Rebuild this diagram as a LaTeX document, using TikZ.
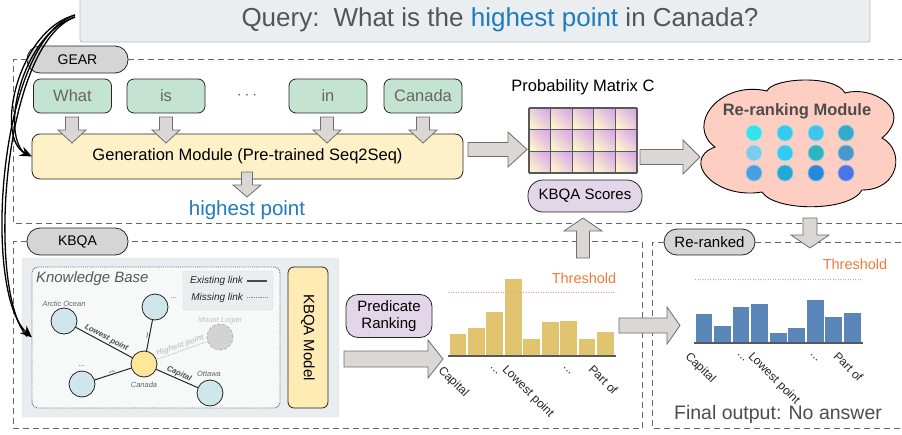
\documentclass[tikz,border=0pt]{standalone}
\usepackage{fontspec}
\setmainfont{Liberation Sans}
\usetikzlibrary{arrows.meta}
\definecolor{querybg}{HTML}{EAEEF0}
\definecolor{queryln}{HTML}{B8BCBE}
\definecolor{qtext}{HTML}{555555}
\definecolor{blueT}{HTML}{1F7BC0}
\definecolor{tokfill}{HTML}{C5E3D3}
\definecolor{tokt}{HTML}{666666}
\definecolor{genfill}{HTML}{FFF1C7}
\definecolor{pillgray}{HTML}{D5D5D5}
\definecolor{arrowfill}{HTML}{DBD7D5}
\definecolor{arrowdraw}{HTML}{6E6E6E}
\definecolor{scorefill}{HTML}{E2D6E8}
\definecolor{cloudc}{HTML}{FFCEC3}
\definecolor{kbpanel}{HTML}{E9EDEF}
\definecolor{kbinner}{HTML}{F7F8F8}
\definecolor{circc}{HTML}{CFE6EC}
\definecolor{canc}{HTML}{FFE699}
\definecolor{loganc}{HTML}{D3D3D3}
\definecolor{modelc}{HTML}{FFEBB3}
\definecolor{barY}{HTML}{E0C46F}
\definecolor{barB}{HTML}{5B86BA}
\definecolor{thrline}{HTML}{F49090}
\definecolor{thrtext}{HTML}{F07A36}
\definecolor{dashc}{HTML}{666666}
\definecolor{kblab}{HTML}{666666}
\definecolor{matY}{HTML}{FDF2CC}
\definecolor{matP}{HTML}{D9AEE8}
\newcommand{\arrD}[6]{\draw[blk] ({#1-#4},#2) -- ({#1+#4},#2) -- ({#1+#4},{#3-(#6)}) -- ({#1+#5},{#3-(#6)}) -- (#1,#3) -- ({#1-#5},{#3-(#6)}) -- ({#1-#4},{#3-(#6)}) -- cycle;}
\newcommand{\arrR}[6]{\draw[blk] (#2,{#1-#4}) -- (#2,{#1+#4}) -- ({#3-(#6)},{#1+#4}) -- ({#3-(#6)},{#1+#5}) -- (#3,#1) -- ({#3-(#6)},{#1-#5}) -- ({#3-(#6)},{#1-#4}) -- cycle;}
\begin{document}
\begin{tikzpicture}[x=1pt,y=-1pt,
  every node/.style={inner sep=0pt, outer sep=0pt},
  tok/.style={draw=black!85, line width=0.8pt, fill=tokfill, rounded corners=7pt, minimum width=78pt, minimum height=34pt, text=tokt, font=\fontsize{16.5}{20}\selectfont},
  pill/.style={draw=black!85, line width=0.8pt, fill=pillgray, rounded corners=13pt, minimum height=27pt, font=\fontsize{14}{17}\selectfont},
  blk/.style={draw=arrowdraw, fill=arrowfill, line width=0.8pt, line join=miter},
  dashbox/.style={draw=dashc, line width=0.9pt, dash pattern=on 6pt off 4pt},
  kbc/.style={circle, draw=black!85, line width=0.8pt, fill=circc, minimum size=26pt},
  kbl/.style={font=\itshape\fontsize{7.5}{9}\selectfont, text=kblab},
  edgelab/.style={font=\bfseries\itshape\fontsize{7.8}{9}\selectfont, text=black!70, sloped, above=1.5pt},
  kbedge/.style={draw=black!85, line width=1pt},
  xlab/.style={rotate=-45, anchor=north west, font=\fontsize{12}{14}\selectfont, text=black!85},
  sketch/.style={line width=1.3pt, black}
]
\useasboundingbox (0,0) rectangle (902,434);
\fill[white] (0,0) rectangle (902,434);

% query
\node[draw=queryln, fill=querybg, line width=0.8pt, rounded corners=2pt, minimum width=790pt, minimum height=48pt] (query) at (475,18) {};
\node[text=qtext, font=\fontsize{26}{30}\selectfont] (qtext) at (500,20) {Query:\hspace{14pt}What is the \textcolor{blueT}{highest point} in Canada?};

% GEAR dashed region
\node[pill, minimum width=101pt] (gear) at (77.5,59.5) {GEAR};
\draw[dashbox] (gear.west) -- (13,59.5) -- (13,223) -- (903,223);
\draw[dashbox] (gear.east) -- (903,59.5);

% KBQA dashed region
\node[pill, minimum width=101pt] (kbqa) at (77.5,241.5) {KBQA};
\draw[dashbox] (kbqa.west) -- (13,241.5) -- (13,428) -- (642,428) -- (642,241.5) -- (kbqa.east);

% Re-ranked dashed region
\node[pill, minimum width=91pt, minimum height=26pt, font=\fontsize{15}{18}\selectfont] (reranked) at (709.5,242) {Re-ranked};
\draw[dashbox] (reranked.west) -- (652,242) -- (652,428) -- (903,428);
\draw[dashbox] (reranked.east) -- (903,242);

% tokens
\node[tok] (tWhat) at (72.5,96) {What};
\node[tok] (tIs) at (166,96) {is};
\node[text=tokt, font=\fontsize{16.5}{20}\selectfont] (tDots) at (247,96) {$\cdots$};
\node[tok] (tIn) at (328,96) {in};
\node[tok] (tCanada) at (423,96) {Canada};

% generation module
\node[draw=black!85, line width=0.8pt, fill=genfill, rounded corners=8pt, minimum width=431pt, minimum height=45pt, font=\fontsize{16.5}{20}\selectfont] (gen) at (247.5,156.5) {Generation Module (Pre-trained Seq2Seq)};
\node[text=blueT, font=\fontsize{20.5}{24}\selectfont] (hp) at (247,210) {highest point};

\arrD{72}{117}{143}{6.5}{14}{13}
\arrD{166}{117}{143}{6.5}{14}{13}
\arrD{327}{117}{143}{6.5}{14}{13}
\arrD{423}{117}{143}{6.5}{14}{13}
\arrD{247}{172}{197}{5.5}{14}{12}

% probability matrix
\node[font=\fontsize{16.5}{20}\selectfont] (pmlabel) at (583,87) {Probability Matrix C};
\node[minimum width=108pt, minimum height=65pt] (mat) at (583,140.5) {};
\foreach \c in {0,...,4} {
  \foreach \r in {0,1,2} {
    \shade[bottom color=matY, top color=matP, shading angle=-45] ({529+\c*21.6},{108+\r*21.667}) rectangle ({529+(\c+1)*21.6},{108+(\r+1)*21.667});
  }
}
\foreach \c in {0,...,5} {\draw[black!65, line width=1.2pt] ({529+\c*21.6},108) -- ({529+\c*21.6},173);}
\foreach \r in {0,...,3} {\draw[black!65, line width=1.2pt] (529,{108+\r*21.667}) -- (637,{108+\r*21.667});}
\node[draw=black!85, line width=0.8pt, fill=scorefill, rounded corners=15pt, minimum width=114pt, minimum height=32pt, font=\fontsize{15}{18}\selectfont] (scores) at (585,196) {KBQA Scores};

\arrR{149.5}{468}{527}{7}{17.5}{19}

% cloud (re-ranking module)
\filldraw[fill=cloudc, draw=black, line width=0.9pt]
  (767,91) .. controls (772,78) and (835,74) .. (845,93)
  .. controls (872,85) and (915,110) .. (882,138)
  .. controls (905,150) and (900,190) .. (862,190)
  .. controls (850,212) and (775,212) .. (762,192)
  .. controls (715,200) and (680,160) .. (715,147)
  .. controls (685,125) and (720,80) .. (767,91) -- cycle;
\coordinate (cloud) at (799,145);
\node[font=\bfseries\fontsize{16.5}{20}\selectfont, text=black!70] (rrm) at (797,111.5) {Re-ranking Module};
\foreach \x/\y/\c in {754/133/38E2EA, 785/133/36CAEE, 816/133/40C4EA, 846/133/35AACB,
                     754/153/7CCBEB, 785/153/34C9EE, 816/153/2EB5C3, 846/153/4699C9,
                     754/173/45A1E0, 785/173/22A9D6, 816/173/2489D8, 846/173/4A75E6} {
  \definecolor{dotc}{HTML}{\c}
  \filldraw[fill=dotc, draw=dotc!60!white, line width=0.8pt] (\x,\y) circle (8pt);
}
\arrR{157}{640}{700}{7.5}{17}{17}
\arrD{583}{258}{218}{6.5}{19}{-13}
\arrD{810}{218}{248}{7}{19}{13}

% knowledge base panel
\node[draw=black!12, fill=kbpanel, rounded corners=2pt, minimum width=317pt, minimum height=159pt] (kbp) at (180.5,337.5) {};
\node[draw=black!60, densely dotted, line width=0.9pt, fill=kbinner, rounded corners=6pt, minimum width=248pt, minimum height=141pt] (kbin) at (156,337.5) {};
\node[anchor=west, font=\itshape\fontsize{15}{18}\selectfont, text=black!65] (kbtitle) at (36,279) {Knowledge Base};
\node[draw=black!15, fill=kbpanel, rounded corners=2pt, minimum width=90pt, minimum height=39pt] (legend) at (228,290.5) {};
\node[anchor=east, font=\itshape\fontsize{10}{12}\selectfont, text=black!85] (lex) at (243,281) {Existing link};
\node[anchor=east, font=\itshape\fontsize{10}{12}\selectfont, text=black!85] (lmi) at (243,297.5) {Missing link};
\coordinate (lexa) at (247,281); \coordinate (lexb) at (267,281);
\coordinate (lmia) at (247,297.5); \coordinate (lmib) at (267,297.5);
\draw[black!70, line width=1.2pt] (lexa) -- (lexb);
\draw[black!45, line width=0.8pt, densely dotted] (lmia) -- (lmib);

\node[kbc] (arc) at (64,321) {};
\node[kbc] (topn) at (155,307) {};
\node[kbc, fill=loganc, draw=black!30, densely dashed] (logan) at (220,337) {};
\node[kbc, fill=canc] (can) at (144,364) {};
\node[kbc] (bl) at (82,384) {};
\node[kbc] (ott) at (210,393) {};
\draw[kbedge] (arc) -- node[edgelab]{Lowest point} (can);
\draw[kbedge] (can) -- node[edgelab]{...} (topn);
\draw[kbedge] (bl) -- node[edgelab]{...} (can);
\draw[kbedge] (can) -- node[edgelab]{Capital} (ott);
\draw[black!30, line width=0.8pt, densely dotted] (can) -- node[edgelab, text=black!22]{Highest point} (logan);
\node[kbl] (larc) at (64,304) {Arctic Ocean};
\node[kbl] (ltop) at (174,298) {...};
\node[kbl, text=black!25] (llogan) at (220,321) {Mount Logan};
\node[kbl] (lcan) at (144,385) {Canada};
\node[kbl] (lott) at (209,374) {Ottawa};
\node[kbl] (lbl) at (82,366) {...};

\node[draw=black!85, line width=0.8pt, fill=modelc, rounded corners=6pt, minimum width=40pt, minimum height=141pt] (model) at (308,337.5) {};
\node[rotate=-90, font=\fontsize{15}{18}\selectfont] (modeltext) at (308,337.5) {KBQA Model};

\node[draw=black!85, line width=0.8pt, fill=scorefill, rounded corners=12pt, minimum width=86pt, minimum height=43pt, align=center, font=\fontsize{15}{17}\selectfont] (pred) at (389,316) {Predicate\\Ranking};
\arrR{359}{344}{443}{8}{19}{15}

% chart 1
\foreach \t [count=\i from 0] in {334,328,312,279,339,322,321,339,332} {
  \fill[barY] ({449.5+\i*18.44},356) rectangle ({449.5+\i*18.44+16.8},\t);
}
\draw[black!65, line width=1.5pt] (448,356) -- (616,356);
\draw[thrline, line width=0.8pt, dash pattern=on 1pt off 1.5pt] (448,292) -- (615,292);
\node[text=thrtext, font=\fontsize{14.5}{17}\selectfont] (thr1) at (584,278) {Threshold};
\node[xlab] (c1a) at (444,365) {Capital};
\node[xlab] (c1b) at (491,367) {...};
\node[xlab] (c1c) at (508,364) {Lowest point};
\node[xlab] (c1d) at (564,367) {...};
\node[xlab] (c1e) at (594,364) {Part of};

\arrR{325.5}{619}{680}{7.5}{18.5}{13}

% chart 2
\foreach \t [count=\i from 0] in {314,326,307,304,333,328,300,317,313} {
  \fill[barB] ({695.5+\i*18.55},343) rectangle ({695.5+\i*18.55+16.8},\t);
}
\draw[black!65, line width=1.5pt] (694,343) -- (863,343);
\draw[thrline, line width=0.8pt, dash pattern=on 1pt off 1.5pt] (695,279) -- (862,279);
\node[text=thrtext, font=\fontsize{14.5}{17}\selectfont] (thr2) at (855,264) {Threshold};
\node[xlab] (c2a) at (691,351) {Capital};
\node[xlab] (c2b) at (738,354) {...};
\node[xlab] (c2c) at (754,351) {Lowest point};
\node[xlab] (c2d) at (811,354) {...};
\node[xlab] (c2e) at (839,351) {Part of};
\node[text=black!70, font=\fontsize{19.5}{23}\selectfont] (final) at (778,414) {Final output: No answer};

% sketchy curved arrows
\draw[sketch, -{Stealth[length=12pt,width=10pt]}] ([xshift=-5pt,yshift=3pt]query.west) .. controls (18,30) and (-6,138) .. (gen.west);
\draw[sketch] ([xshift=-5pt,yshift=1pt]query.west) .. controls (22,34) and (-2,136) .. ([xshift=-5pt,yshift=1pt]gen.west);
\draw[sketch, -{Stealth[length=12pt,width=10pt]}] ([xshift=-5pt,yshift=3pt]query.west) .. controls (-2,40) and (-18,292) .. (kbin.west);
\draw[sketch] ([xshift=-5pt,yshift=1pt]query.west) .. controls (2,44) and (-14,290) .. ([xshift=-5pt,yshift=1pt]kbin.west);
\end{tikzpicture}
\end{document}
